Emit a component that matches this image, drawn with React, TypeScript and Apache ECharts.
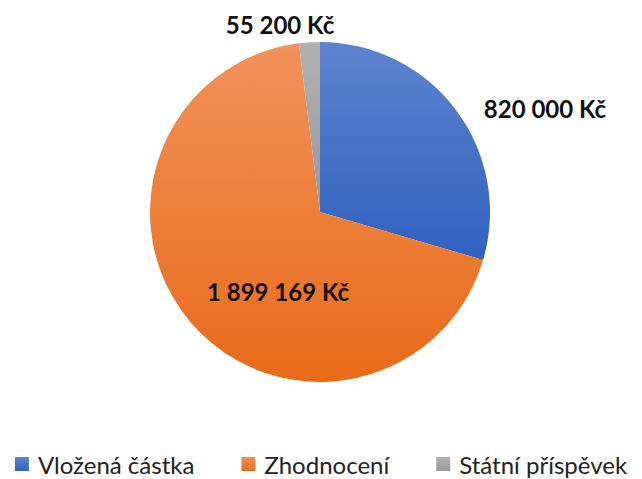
import React, { useEffect, useRef } from "react";
import * as echarts from "echarts";

const categories = ["Vložená částka", "Zhodnocení", "Státní příspěvek"];
const values = [820000, 1899169, 55200];
const labels = ["820 000 Kč", "1 899 169 Kč", "55 200 Kč"];

const gradients = [
  ["#5d84ce", "#2f61bf"],
  ["#f1925c", "#e86b19"],
  ["#b2b2b2", "#989898"],
];
const flat = ["#4472c4", "#ed7d31", "#a5a5a5"];
const labelPos: [number, number][] = [
  [545, 108],
  [278, 291],
  [280, 24],
];

export default function App() {
  const ref = useRef<HTMLDivElement>(null);
  useEffect(() => {
    document.body.style.margin = "0";
    const chart = echarts.init(ref.current!, undefined, { renderer: "svg" });
    const font = "Lato, 'Open Sans', sans-serif";
    chart.setOption({
      animation: false,
      legend: {
        top: 452,
        left: "center",
        padding: 0,
        icon: "rect",
        itemWidth: 14,
        itemHeight: 14,
        itemGap: 47,
        textStyle: {
          fontFamily: font,
          fontSize: 24,
          lineHeight: 24,
          color: "#222",
          padding: [0, 0, 0, 4],
        },
        data: categories,
      },
      series: [
        {
          type: "pie",
          center: [320, 212],
          radius: 170,
          startAngle: 90,
          clockwise: true,
          label: {
            show: true,
            formatter: (p: any) => labels[p.dataIndex],
            fontFamily: font,
            fontWeight: "bold",
            fontSize: 24,
            color: "#111",
            overflow: "none",
          },
          labelLine: { show: false },
          labelLayout: (p: any) => ({
            x: labelPos[p.dataIndex][0],
            y: labelPos[p.dataIndex][1],
            align: "center",
            verticalAlign: "middle",
          }),
          itemStyle: { borderWidth: 0 },
          emphasis: { disabled: true },
          data: categories.map((name, i) => ({
            name,
            value: values[i],
            itemStyle: {
              color: new echarts.graphic.LinearGradient(0, 0, 0, 1, [
                { offset: 0, color: gradients[i][0] },
                { offset: 1, color: gradients[i][1] },
              ]),
            },
          })),
        },
      ],
      color: flat,
    });
    return () => chart.dispose();
  }, []);
  return <div ref={ref} style={{ width: 642, height: 479 }} />;
}
